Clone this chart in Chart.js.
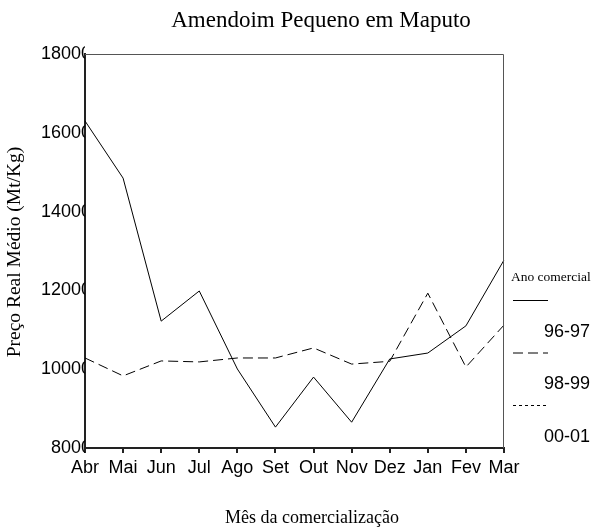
<!DOCTYPE html>
<html>
<head>
<meta charset="utf-8">
<script src="https://cdn.jsdelivr.net/npm/chart.js@4.4.1/dist/chart.umd.min.js"></script>
<style>
  html, body { margin: 0; padding: 0; background: #fff; }
  #wrap { width: 605px; height: 529px; }
</style>
</head>
<body>
<div id="wrap"><canvas id="precoChart" width="605" height="529"></canvas></div>
<script>
const meses = ["Abr", "Mai", "Jun", "Jul", "Ago", "Set", "Out", "Nov", "Dez", "Jan", "Fev", "Mar"];
const ano9697 = [16300, 14850, 11220, 11985, 10005, 8530, 9800, 8655, 10260, 10410, 11100, 12770];
const ano9899 = [10285, 9830, 10210, 10185, 10285, 10285, 10540, 10130, 10200, 11930, 10055, 11120];
const ano0001 = [null, null, null, null, null, null, null, null, null, null, null, null];
const yTicks = [8000, 10000, 12000, 14000, 16000, 18000];

const serif = "'Liberation Serif', 'Times New Roman', serif";
const sans = "'Liberation Sans', Arial, sans-serif";

// titles, frame and the legend on the right are drawn by hand
const decorPlugin = {
  id: "decor",
  afterDraw(chart) {
    const ctx = chart.ctx;
    const area = chart.chartArea;
    ctx.save();

    // top and right frame
    ctx.strokeStyle = "#555";
    ctx.lineWidth = 1;
    ctx.beginPath();
    ctx.moveTo(area.left, area.top + 0.5);
    ctx.lineTo(area.right - 0.5, area.top + 0.5);
    ctx.lineTo(area.right - 0.5, area.bottom);
    ctx.stroke();

    ctx.fillStyle = "#000";
    ctx.textBaseline = "middle";

    ctx.font = "23px " + serif;
    ctx.textAlign = "center";
    ctx.fillText("Amendoim Pequeno em Maputo", 321, 21);

    ctx.font = "18px " + serif;
    ctx.fillText("Mês da comercialização", 312, 518);

    ctx.save();
    ctx.translate(15, 252);
    ctx.rotate(-Math.PI / 2);
    ctx.font = "19.5px " + serif;
    ctx.fillText("Preço Real Médio (Mt/Kg)", 0, 0);
    ctx.restore();

    // legend
    ctx.textAlign = "left";
    ctx.font = "13.5px " + serif;
    ctx.fillText("Ano comercial", 511, 277);

    let y = 300;
    chart.data.datasets.forEach(ds => {
      ctx.strokeStyle = "#000";
      ctx.lineWidth = 1;
      ctx.setLineDash(ds.borderDash || []);
      ctx.beginPath();
      ctx.moveTo(513, y + 0.5);
      ctx.lineTo(548, y + 0.5);
      ctx.stroke();
      ctx.setLineDash([]);
      ctx.font = "18px " + sans;
      ctx.textAlign = "right";
      ctx.fillText(ds.label, 590, y + 32);
      y += 52.5;
    });
    ctx.restore();
  }
};

new Chart(document.getElementById("precoChart"), {
  type: "line",
  data: {
    labels: meses,
    datasets: [
      { label: "96-97", data: ano9697, borderColor: "#000", borderWidth: 1, borderDash: [] },
      { label: "98-99", data: ano9899, borderColor: "#000", borderWidth: 1, borderDash: [10, 5] },
      { label: "00-01", data: ano0001, borderColor: "#000", borderWidth: 1, borderDash: [3, 3] }
    ]
  },
  options: {
    responsive: false,
    animation: false,
    layout: { padding: { top: 54, right: 101, bottom: 0, left: 0 } },
    elements: { point: { radius: 0 }, line: { tension: 0 } },
    plugins: {
      legend: { display: false },
      title: { display: false },
      tooltip: { enabled: false }
    },
    scales: {
      x: {
        offset: false,
        afterFit(scale) { scale.height = 81; },
        grid: { drawOnChartArea: false, drawTicks: true, tickLength: 5, color: "#222", lineWidth: 2 },
        border: { display: true, color: "#222", width: 2 },
        ticks: { color: "#000", font: { family: sans, size: 18 }, padding: 4, maxRotation: 0, autoSkip: false }
      },
      y: {
        min: 8000,
        max: 18000,
        afterFit(scale) { scale.width = 85; },
        afterBuildTicks(scale) { scale.ticks = yTicks.map(v => ({ value: v })); },
        grid: { display: false, drawTicks: false },
        border: { display: true, color: "#222", width: 2 },
        ticks: {
          color: "#000",
          font: { family: sans, size: 18 },
          padding: -6,
          callback: value => String(value)
        }
      }
    }
  },
  plugins: [decorPlugin]
});
</script>
</body>
</html>
